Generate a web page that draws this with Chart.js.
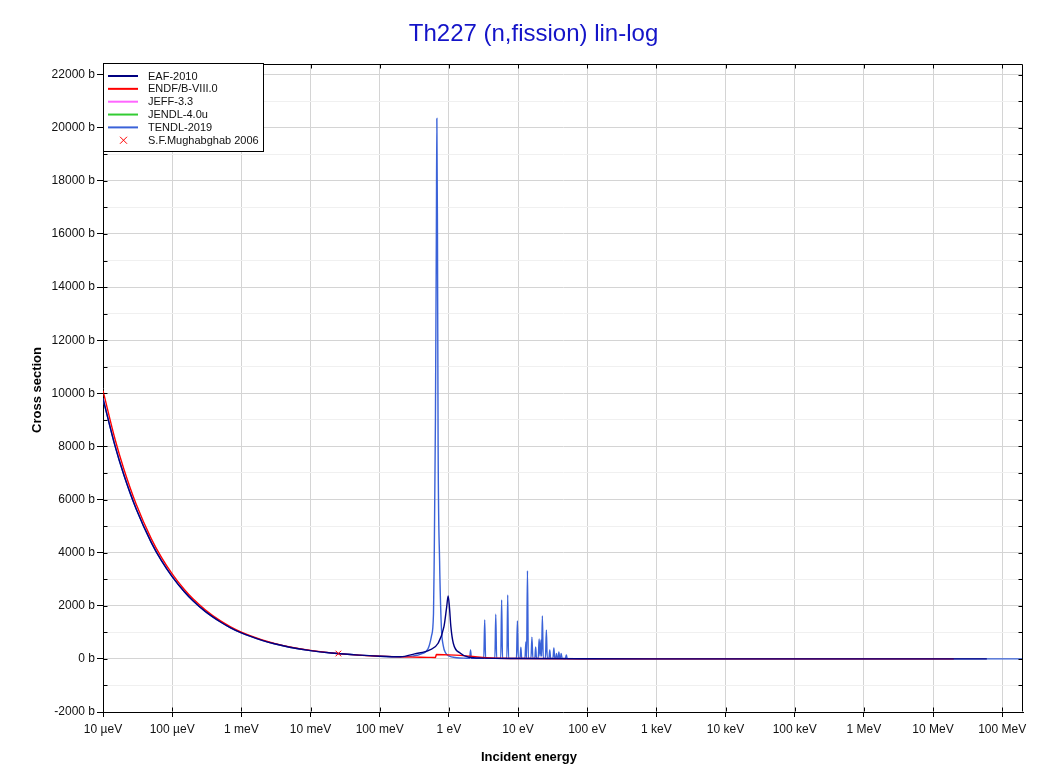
<!DOCTYPE html>
<html>
<head>
<meta charset="utf-8">
<script src="https://cdn.jsdelivr.net/npm/chart.js@4.4.1/dist/chart.umd.min.js"></script>
<style>
  html, body { margin: 0; padding: 0; background: #fff; }
  canvas { display: block; }
</style>
</head>
<body>
<canvas id="chart" width="1053" height="773"></canvas>
<script>
// x tick positions (eV) and their labels
const tickValues = [1e-5, 1e-4, 1e-3, 1e-2, 1e-1, 1, 10, 100, 1e3, 1e4, 1e5, 1e6, 1e7, 1e8];
const tickLabels = ["10 µeV", "100 µeV", "1 meV", "10 meV", "100 meV", "1 eV", "10 eV",
  "100 eV", "1 keV", "10 keV", "100 keV", "1 MeV", "10 MeV", "100 MeV"];

// y ticks (barn); labels only on every second one
const yTickValues = [-2000, -1000, 0, 1000, 2000, 3000, 4000, 5000, 6000, 7000, 8000, 9000,
  10000, 11000, 12000, 13000, 14000, 15000, 16000, 17000, 18000, 19000, 20000, 21000, 22000];

// EAF-2010
const eafE = [1e-5, 1.5e-5, 2e-5, 3e-5, 5e-5, 7e-5, 1e-4, 1.5e-4, 2e-4, 3e-4, 5e-4, 7e-4,
  1e-3, 2e-3, 3e-3, 5e-3, 1e-2, 2e-2, 5e-2, 0.1, 0.2, 0.32, 0.53, 0.7, 0.85, 0.93, 0.977,
  1.02, 1.07, 1.16, 1.47, 1.95, 3, 10, 100, 1e3, 1e4, 1e5, 1e6, 1e7, 6e7];
const eafXS = [9800, 8000, 6930, 5660, 4380, 3700, 3100, 2530, 2190, 1790, 1390, 1170,
  980, 700, 570, 440, 310, 220, 140, 100, 80, 190, 340, 590, 1215, 1950, 2370,
  1950, 1215, 590, 215, 60, 30, 15, 5, 2, 1.5, 1, 1.5, 2, 2];

// ENDF/B-VIII.0
const endfE = [1e-5, 1.5e-5, 2e-5, 3e-5, 5e-5, 7e-5, 1e-4, 1.5e-4, 2e-4, 3e-4, 5e-4, 7e-4,
  1e-3, 2e-3, 3e-3, 5e-3, 1e-2, 2e-2, 5e-2, 0.1, 0.2, 0.3, 0.5, 0.64, 0.66, 1.0, 2, 3.5,
  10, 100, 1e3, 1e4, 1e5, 1e6, 1e7, 2e7];
const endfXS = [10100, 8250, 7150, 5840, 4520, 3820, 3200, 2610, 2260, 1850, 1430, 1210,
  1010, 715, 585, 452, 320, 226, 143, 105, 75, 65, 58, 52, 165, 150, 105, 40,
  15, 5, 2, 1.5, 1, 1.5, 2, 2];

// JEFF-3.3 and JENDL-4.0u: nothing visible in the plot
const jeffE = [];
const jeffXS = [];
const jendlE = [];
const jendlXS = [];

// TENDL-2019
const tendlE = [1e-5, 1.5e-5, 2e-5, 3e-5, 5e-5, 7e-5, 1e-4, 1.5e-4, 2e-4, 3e-4, 5e-4, 7e-4,
  1e-3, 2e-3, 3e-3, 5e-3, 1e-2, 2e-2, 5e-2, 0.1, 0.2, 0.3, 0.4, 0.5, 0.56, 0.6,
  0.614, 0.64, 0.66, 0.671, 0.685, 0.70, 0.735, 0.78, 0.83, 0.9, 1.0, 1.3, 1.8,
  2.0, 2.06, 2.12,
  3.2, 3.3, 3.4,
  4.63, 4.77, 4.91,
  5.63, 5.8, 5.97,
  6.9, 7.1, 7.3,
  9.5, 9.8, 10.1,
  10.7, 11.0, 11.3,
  12.6, 13.0, 13.3, 13.7, 14.1,
  15.4, 15.9, 16.4,
  17.5, 18.0, 18.5,
  19.6, 20.2, 20.8, 21.5, 21.9, 22.5, 23.2,
  24.9, 25.7, 26.5,
  28.0, 28.8, 29.6,
  32.0, 33.0, 34.0, 35.0, 36.0, 37.0, 38.0, 39.0, 40.0, 41.0, 42.0, 43.5,
  48.5, 50.0, 51.5,
  60, 100, 1e3, 1e4, 1e5, 1e6, 1e7, 2e8];
const tendlXS = [9800, 8000, 6930, 5660, 4380, 3700, 3100, 2530, 2190, 1790, 1390, 1170,
  980, 700, 570, 440, 310, 220, 140, 100, 80, 105, 190, 380, 850, 1700,
  3700, 9000, 16000, 20350, 16000, 8000, 3700, 1200, 500, 220, 110, 45, 25,
  20, 340, 20,
  20, 1470, 20,
  20, 1680, 20,
  20, 2220, 20,
  20, 2410, 20,
  20, 1430, 20,
  20, 440, 20,
  20, 640, 30, 3320, 20,
  20, 820, 20,
  20, 450, 20,
  20, 750, 100, 710, 100, 1620, 20,
  20, 1090, 20,
  20, 340, 20,
  20, 410, 20, 20, 200, 20, 20, 260, 20, 20, 200, 20,
  15, 150, 10,
  8, 5, 2, 1.5, 1, 1.5, 2, 2];

// S.F.Mughabghab 2006 thermal value
const expE = [0.0253];
const expXS = [202];

const pts = (xs, ys) => xs.map((v, i) => ({ x: v, y: ys[i] }));

const lineSet = (label, xs, ys, color) => ({
  label: label,
  data: pts(xs, ys),
  borderColor: color,
  backgroundColor: color,
  borderWidth: 1.4,
  pointRadius: 0,
  fill: false,
  cubicInterpolationMode: "monotone",
});

const FONT = '"Liberation Sans", Arial, sans-serif';
const isMajor = (v) => Math.round(v) % 2000 === 0;

const frame = {
  id: "frame",
  afterDraw(chart) {
    const ctx = chart.ctx;
    const a = chart.chartArea;
    const x = chart.scales.x;
    const y = chart.scales.y;
    ctx.save();
    ctx.strokeStyle = "#000";
    ctx.lineWidth = 1;
    const L = Math.round(a.left) + 0.5, R = Math.round(a.right) - 0.5;
    const T = Math.round(a.top) + 0.5, B = Math.round(a.bottom) - 0.5;
    ctx.beginPath();
    ctx.moveTo(L, T); ctx.lineTo(R, T); ctx.lineTo(R, B);
    y.ticks.forEach((t) => {
      const py = Math.round(y.getPixelForValue(t.value)) + 0.5;
      ctx.moveTo(L, py); ctx.lineTo(L + 4, py);
      ctx.moveTo(R - 4, py); ctx.lineTo(R, py);
    });
    x.ticks.forEach((t) => {
      const px = Math.round(x.getPixelForValue(t.value)) + 0.5;
      ctx.moveTo(px, B); ctx.lineTo(px, B - 4);
      ctx.moveTo(px, T); ctx.lineTo(px, T + 4);
    });
    ctx.stroke();

    // axis titles
    ctx.fillStyle = "#000";
    ctx.font = "bold 13px " + FONT;
    ctx.textAlign = "center";
    ctx.textBaseline = "middle";
    ctx.fillText("Incident energy", 529, 757);
    ctx.save();
    ctx.translate(37.5, 390);
    ctx.rotate(-Math.PI / 2);
    ctx.fillText("Cross section", 0, 0);
    ctx.restore();

    // legend box
    const bx = 103.5, by = 63.5, bw = 160, bh = 88;
    ctx.fillStyle = "#fff";
    ctx.fillRect(bx, by, bw, bh);
    ctx.strokeRect(bx, by, bw, bh);
    ctx.font = "11px " + FONT;
    ctx.textAlign = "left";
    chart.data.datasets.forEach((ds, i) => {
      const ry = 76 + i * 12.85;
      if (ds.showLine === false) {
        ctx.strokeStyle = ds.borderColor;
        ctx.lineWidth = 1;
        ctx.beginPath();
        ctx.moveTo(120, ry - 3.5); ctx.lineTo(127, ry + 3.5);
        ctx.moveTo(127, ry - 3.5); ctx.lineTo(120, ry + 3.5);
        ctx.stroke();
      } else {
        ctx.strokeStyle = ds.borderColor;
        ctx.lineWidth = 2;
        ctx.beginPath();
        ctx.moveTo(108, ry); ctx.lineTo(138, ry);
        ctx.stroke();
      }
      ctx.fillStyle = "#111";
      ctx.fillText(ds.label, 148, ry + 0.5);
    });
    ctx.restore();
  },
};

new Chart(document.getElementById("chart").getContext("2d"), {
  type: "line",
  data: {
    datasets: [
      lineSet("EAF-2010", eafE, eafXS, "#000080"),
      lineSet("ENDF/B-VIII.0", endfE, endfXS, "#ff0000"),
      lineSet("JEFF-3.3", jeffE, jeffXS, "#ff66ff"),
      lineSet("JENDL-4.0u", jendlE, jendlXS, "#33cc33"),
      lineSet("TENDL-2019", tendlE, tendlXS, "#3a62d8"),
      {
        label: "S.F.Mughabghab 2006",
        data: pts(expE, expXS),
        showLine: false,
        borderColor: "#ff0000",
        backgroundColor: "#ff0000",
        pointStyle: "crossRot",
        pointRadius: 4,
        pointBorderWidth: 1,
        order: -1,
      },
    ],
  },
  options: {
    responsive: false,
    animation: false,
    layout: { padding: { left: 44, right: 30, top: 0, bottom: 0 } },
    plugins: {
      legend: { display: false },
      tooltip: { enabled: false },
      title: {
        display: true,
        text: "Th227 (n,fission) lin-log",
        color: "#1414c8",
        font: { family: FONT, size: 24, weight: "normal" },
        padding: { top: 20, bottom: 15.2 },
      },
    },
    scales: {
      x: {
        type: "logarithmic",
        min: 1e-5,
        max: 2e8,
        afterBuildTicks: (scale) => {
          scale.ticks = tickValues.map((v) => ({ value: v }));
        },
        afterFit: (scale) => {
          scale.height = 61;
        },
        ticks: {
          autoSkip: false,
          maxRotation: 0,
          color: "#111",
          padding: 5,
          font: { family: FONT, size: 12 },
          callback: (value, index) => tickLabels[index],
        },
        grid: {
          color: "#d4d4d4",
          tickColor: "#000",
          tickLength: 5,
        },
        border: { color: "#000", width: 1 },
      },
      y: {
        min: -2000,
        max: 22400,
        afterBuildTicks: (scale) => {
          scale.ticks = yTickValues.map((v) => ({ value: v }));
        },
        afterFit: (scale) => {
          scale.width = 59;
        },
        ticks: {
          autoSkip: false,
          color: "#111",
          padding: 2,
          font: { family: FONT, size: 12 },
          callback: (value, index) => {
            const v = yTickValues[index];
            return isMajor(v) ? v + " b" : "";
          },
        },
        grid: {
          color: (c) => (c.tick && isMajor(c.tick.value) ? "#d4d4d4" : "#f0f0f0"),
          tickColor: (c) => (c.tick && isMajor(c.tick.value) ? "#000" : "rgba(0,0,0,0)"),
          tickLength: 6,
        },
        border: { color: "#000", width: 1 },
      },
    },
  },
  plugins: [frame],
});
</script>
</body>
</html>
